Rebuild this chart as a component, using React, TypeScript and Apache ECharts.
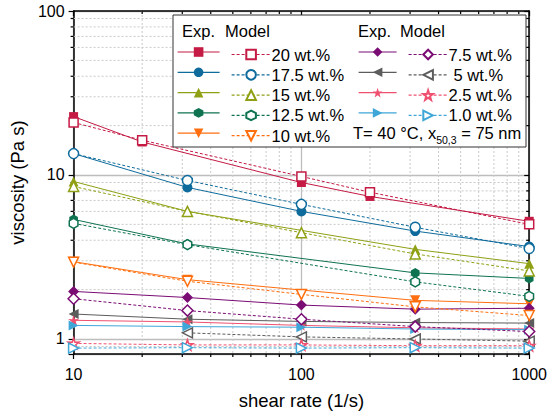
import React, { useEffect, useRef } from "react";
import * as echarts from "echarts";

// ---------- data ----------
const shearRate = [10, 31.6, 100, 316, 1000];
const shearRate20 = [10, 20, 100, 200, 1000];

const exp20 = [22.7, 15.9, 9.0, 7.4, 5.22];
const model20 = [20.9, 16.3, 9.8, 7.85, 5.0];
const exp175 = [13.5, 8.4, 6.0, 4.55, 3.66];
const model175 = [13.5, 9.26, 6.62, 4.8, 3.56];
const exp15 = [9.13, 6.0, null, 3.52, 2.88];
const model15 = [8.51, 6.0, 4.45, 3.3, 2.6];
const exp125 = [5.36, 3.8, null, 2.53, 2.34];
const model125 = [5.07, 3.76, null, 2.23, 1.82];
const exp10 = [2.96, 2.3, null, 1.72, 1.64];
const model10 = [2.94, 2.25, 1.87, 1.57, 1.39];
const exp75 = [1.95, 1.79, 1.61, 1.52, 1.54];
const model75 = [1.76, 1.49, 1.32, 1.19, 1.11];
const exp5 = [1.42, 1.32, 1.28, 1.26, 1.25];
const model5 = [null, 1.09, 1.03, 1.0, 0.97];
const exp25 = [1.3, 1.27, 1.21, 1.17, 1.15];
const model25 = [0.94, 0.92, 0.92, 0.91, 0.91];
const exp1 = [1.21, 1.19, 1.18, 1.15, 1.14];
const model1 = [0.88, 0.885, 0.88, 0.885, 0.88];

const concLabels = ["20 wt.%", "17.5 wt.%", "15 wt.%", "12.5 wt.%", "10 wt.%", "7.5 wt.%", "5 wt.%", "2.5 wt.%", "1.0 wt.%"];

const xTickLabels = [10, 100, 1000];
const yTickLabels = [1, 10, 100];
const xMinorTicks = [20, 30, 40, 50, 60, 70, 80, 90, 200, 300, 400, 500, 600, 700, 800, 900];
const yMinorTicks = [0.9, 2, 3, 4, 5, 6, 7, 8, 9, 20, 30, 40, 50, 60, 70, 80, 90];

// ---------- styles ----------
const FONT = "'Liberation Sans', Arial, Helvetica, sans-serif";
const colors = ["#c41a44", "#0e6b9c", "#8fa014", "#0f7352", "#ff6f0f", "#7a0c74", "#5c5c5c", "#f05070", "#3fa6d8"];
const HEX = "path://M50,0 L93.3,25 L93.3,75 L50,100 L6.7,75 L6.7,25 Z";
const STAR = "path://M50,0 L61.8,35.1 L97.6,34.5 L69,56.5 L79.4,90.5 L50,70 L20.6,90.5 L31,56.5 L2.4,34.5 L38.2,35.1 Z";
const symbols = [
  { symbol: "rect", rotate: 0, size: 9 },
  { symbol: "circle", rotate: 0, size: 10 },
  { symbol: "triangle", rotate: 0, size: 10 },
  { symbol: HEX, rotate: 0, size: 10 },
  { symbol: "triangle", rotate: 180, size: 10 },
  { symbol: "diamond", rotate: 0, size: 11 },
  { symbol: "triangle", rotate: 90, size: 10 },
  { symbol: STAR, rotate: 0, size: 11 },
  { symbol: "triangle", rotate: -90, size: 10 },
];

const expData = [exp20, exp175, exp15, exp125, exp10, exp75, exp5, exp25, exp1];
const modelData = [model20, model175, model15, model125, model10, model75, model5, model25, model1];

function pairs(xs: number[], ys: (number | null)[]) {
  const out: number[][] = [];
  xs.forEach((x, i) => {
    const y = ys[i];
    if (y !== null && y !== undefined) out.push([x, y]);
  });
  return out;
}

function makeSeries(i: number, hollow: boolean) {
  const color = colors[i];
  const sym = symbols[i];
  const xs = i === 0 ? shearRate20 : shearRate;
  const ys = hollow ? modelData[i] : expData[i];
  return {
    type: "line",
    name: hollow ? concLabels[i] : concLabels[i] + " Exp.",
    data: pairs(xs, ys),
    symbol: sym.symbol,
    symbolRotate: sym.rotate,
    symbolSize: sym.size,
    symbolKeepAspect: true,
    showSymbol: true,
    connectNulls: true,
    xAxisIndex: 0,
    yAxisIndex: 0,
    z: hollow ? 4 : 3,
    lineStyle: { color, width: 1, type: hollow ? [3, 2] : "solid" },
    itemStyle: hollow
      ? { color: "#ffffff", borderColor: color, borderWidth: 1.5 }
      : { color, borderWidth: 0 },
    emphasis: { disabled: true },
  };
}

function isTick(v: number, list: number[]) {
  return list.some((t) => Math.abs(v - t) / t < 1e-6);
}

export default function App() {
  const ref = useRef<HTMLDivElement>(null);

  useEffect(() => {
    document.body.style.margin = "0";
    if (!ref.current) return;
    const chart = echarts.init(ref.current, undefined, { renderer: "svg" });

    const series: any[] = [];
    for (let i = 0; i < 9; i++) {
      series.push(makeSeries(i, false));
      series.push(makeSeries(i, true));
    }

    const minorData = [
      ...xMinorTicks.map((v) => [v, 1, 0]),
      ...yMinorTicks.map((v) => [10, v, 1]),
    ];

    series.unshift({
      type: "custom",
      name: "minor",
      silent: true,
      clip: false,
      z: 1,
      xAxisIndex: 0,
      yAxisIndex: 0,
      data: minorData,
      renderItem: (params: any, api: any) => {
        const cs = params.coordSys;
        const kind = api.value(2);
        const p = api.coord([api.value(0), api.value(1)]);
        const gridStyle = { stroke: "#c9c9c9", lineWidth: 1, lineDash: [2, 2] };
        const tickStyle = { stroke: "#000", lineWidth: 1.2 };
        if (kind === 0) {
          const x = p[0];
          const b = cs.y + cs.height;
          return {
            type: "group",
            children: [
              { type: "line", shape: { x1: x, y1: cs.y, x2: x, y2: b }, style: gridStyle },
              { type: "line", shape: { x1: x, y1: b, x2: x, y2: b + 3 }, style: tickStyle },
              { type: "line", shape: { x1: x, y1: cs.y, x2: x, y2: cs.y + 3 }, style: tickStyle },
            ],
          };
        }
        const y = p[1];
        const r = cs.x + cs.width;
        return {
          type: "group",
          children: [
            { type: "line", shape: { x1: cs.x, y1: y, x2: r, y2: y }, style: gridStyle },
            { type: "line", shape: { x1: cs.x - 3, y1: y, x2: cs.x, y2: y }, style: tickStyle },
            { type: "line", shape: { x1: r - 3, y1: y, x2: r, y2: y }, style: tickStyle },
          ],
        };
      },
    });

    const axisLine = { show: true, onZero: false, lineStyle: { color: "#000", width: 1.5 } };
    const tickLine = { color: "#000", width: 1.2 };

    const legendBase = {
      orient: "vertical",
      itemHeight: 12,
      selectedMode: false,
      z: 60,
      padding: 0,
      lineStyle: { width: 1.2 },
    };

    // one legend per entry, so rows sit exactly like the reference table
    const legends: any[] = [];
    const rowStep = 20.3;
    for (let i = 0; i < 9; i++) {
      const right = i >= 5;
      const row = right ? i - 5 : i;
      const top = 46 + row * rowStep;
      legends.push({
        ...legendBase,
        left: right ? 358 : 177,
        top,
        itemWidth: right ? 38 : 42,
        data: [concLabels[i] + " Exp."],
        formatter: () => "",
        textStyle: { fontSize: 12 },
      });
      legends.push({
        ...legendBase,
        left: right ? 408 : 231,
        top,
        itemWidth: 39,
        data: [concLabels[i]],
        textStyle: {
          fontSize: 16.5,
          color: "#000",
          fontFamily: FONT,
          padding: [0, 0, 0, i === 6 ? 1 : -4],
        },
      });
    }

    const option: any = {
      animation: false,
      backgroundColor: "#ffffff",
      grid: { left: 61, right: 20, top: 11, bottom: 60 },
      xAxis: [
        {
          type: "log",
          logBase: 10,
          min: 10,
          max: 1000,
          position: "bottom",
          name: "shear rate (1/s)",
          nameLocation: "middle",
          nameGap: 37,
          nameTextStyle: { fontSize: 18.5, color: "#000", fontFamily: FONT },
          axisLine,
          axisTick: { show: true, inside: false, length: 5, lineStyle: tickLine },
          axisLabel: {
            fontSize: 16,
            color: "#000",
            fontFamily: FONT,
            margin: 12,
            formatter: (v: number) => (isTick(v, xTickLabels) ? String(Math.round(v)) : ""),
          },
          splitLine: { show: true, lineStyle: { color: "#bdbdbd", width: 1.3 } },
        },
        {
          type: "log",
          logBase: 10,
          min: 10,
          max: 1000,
          position: "top",
          axisLine,
          axisTick: { show: true, inside: true, length: 5, lineStyle: tickLine },
          axisLabel: { show: false },
          splitLine: { show: false },
        },
      ],
      yAxis: [
        {
          type: "log",
          logBase: 10,
          min: 0.81,
          max: 100,
          position: "left",
          name: "viscosity (Pa s)",
          nameLocation: "middle",
          nameGap: 35,
          nameTextStyle: { fontSize: 18.5, color: "#000", fontFamily: FONT },
          axisLine,
          axisTick: { show: true, inside: false, length: 5, lineStyle: tickLine },
          axisLabel: {
            fontSize: 16,
            color: "#000",
            fontFamily: FONT,
            margin: 9,
            formatter: (v: number) => (isTick(v, yTickLabels) ? String(Math.round(v)) : ""),
          },
          splitLine: { show: true, lineStyle: { color: "#bdbdbd", width: 1.3 } },
        },
        {
          type: "log",
          logBase: 10,
          min: 0.81,
          max: 100,
          position: "right",
          axisLine,
          axisTick: { show: true, inside: true, length: 5, lineStyle: tickLine },
          axisLabel: { show: false },
          splitLine: { show: false },
        },
      ],
      legend: legends,
      graphic: [
        {
          type: "rect",
          z: 50,
          shape: { x: 173, y: 15, width: 353, height: 132 },
          style: { fill: "#ffffff", stroke: "#333", lineWidth: 1 },
        },
        { type: "text", z: 55, x: 182, y: 31, style: { text: "Exp.", fontSize: 16.5, fontFamily: FONT, fill: "#000", verticalAlign: "middle" } },
        { type: "text", z: 55, x: 225, y: 31, style: { text: "Model", fontSize: 16.5, fontFamily: FONT, fill: "#000", verticalAlign: "middle" } },
        { type: "text", z: 55, x: 358, y: 31, style: { text: "Exp.", fontSize: 16.5, fontFamily: FONT, fill: "#000", verticalAlign: "middle" } },
        { type: "text", z: 55, x: 400, y: 31, style: { text: "Model", fontSize: 16.5, fontFamily: FONT, fill: "#000", verticalAlign: "middle" } },
        {
          type: "text",
          z: 55,
          x: 353,
          y: 133,
          style: {
            text: "{n|T= 40 °C, x}{s|50,3}{n| = 75 nm}",
            fontFamily: FONT,
            fill: "#000",
            verticalAlign: "middle",
            rich: {
              n: { fontSize: 16.5, fontFamily: FONT, fill: "#000", lineHeight: 24, verticalAlign: "middle" },
              s: { fontSize: 10.5, fontFamily: FONT, fill: "#000", lineHeight: 12, verticalAlign: "bottom" },
            },
          },
        },
      ],
      series,
    };

    chart.setOption(option);
    return () => chart.dispose();
  }, []);

  return (
    <div
      ref={ref}
      style={{ width: 550, height: 415, position: "fixed", left: 0, top: 0, background: "#fff" }}
    />
  );
}
